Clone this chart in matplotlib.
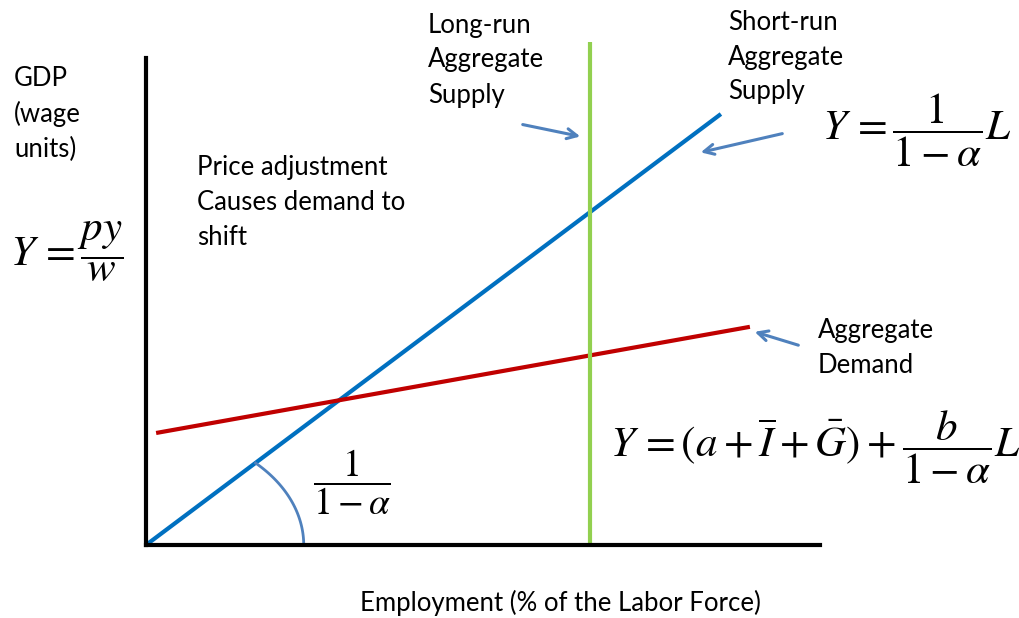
import numpy as np
import matplotlib.pyplot as plt

plt.rcParams['font.family'] = ['Lato', 'DejaVu Sans']
plt.rcParams['mathtext.fontset'] = 'stix'

# curves in chart units (x: employment 0-100, y: GDP 0-100)
sras_x = [0, 85.3]
sras_y = [0, 88.5]
ad_x = [1.5, 89.6]
ad_y = [23.0, 44.8]
lras_x = 65.9
lras_y = [0, 103.3]
arc_r = 23.4
arc_deg = 46

W, H = 1020, 618
def fp(x, y):
    # pixel (from top-left) -> figure fraction
    return x / W, 1 - y / H

fig = plt.figure(figsize=(10.2, 6.18), dpi=100)
l, b = fp(146, 545)
r, t = fp(820, 58)
ax = fig.add_axes([l, b, r - l, t - b])
ax.set_xlim(0, 100)
ax.set_ylim(0, 100)
for s in ['top', 'right']:
    ax.spines[s].set_visible(False)
for s in ['left', 'bottom']:
    ax.spines[s].set_linewidth(3)
ax.set_xticks([])
ax.set_yticks([])

ax.plot(sras_x, sras_y, color='#0070C0', lw=3, solid_capstyle='butt', clip_on=False)
ax.plot(ad_x, ad_y, color='#C00000', lw=3, solid_capstyle='butt', clip_on=False)
ax.plot([lras_x, lras_x], lras_y, color='#92D050', lw=3, solid_capstyle='butt', clip_on=False)
th = np.radians(np.linspace(0, arc_deg, 60))
ax.plot(arc_r * np.cos(th), arc_r * np.sin(th), color='#4F81BD', lw=2, clip_on=False)

fs = 18.5
def txt(x, y, s, **kw):
    fig.text(*fp(x, y), s, fontsize=kw.pop('fontsize', fs), va=kw.pop('va', 'center'),
             ha=kw.pop('ha', 'left'), linespacing=kw.pop('linespacing', 1.5), **kw)

txt(14, 114, 'GDP\n(wage\nunits)')
txt(197, 203, 'Price adjustment\nCauses demand to\nshift')
txt(428, 60, 'Long-run\nAggregate\nSupply')
txt(728, 57, 'Short-run\nAggregate\nSupply')
txt(818, 348, 'Aggregate\nDemand')
txt(560, 603, 'Employment (% of the Labor Force)', ha='center')

ms = 31
txt(10, 252, r'$Y\,=\dfrac{py}{w}$', fontsize=ms)
txt(822, 130, r'$Y\,=\dfrac{1}{1-\alpha}L$', fontsize=ms)
txt(610, 447, r'$Y\,=\left(a+\overline{I}+\bar{G}\right)+\dfrac{b}{1-\alpha}L$', fontsize=ms)
txt(313, 482, r'$\dfrac{1}{1-\alpha}$', fontsize=27)

aprops = dict(arrowstyle='->', color='#4F81BD', lw=2.2, mutation_scale=18)
ax.annotate('', xy=fp(583, 137), xytext=fp(520, 124), xycoords='figure fraction', arrowprops=aprops)
ax.annotate('', xy=fp(698, 153), xytext=fp(785, 133), xycoords='figure fraction', arrowprops=aprops)
ax.annotate('', xy=fp(752, 331), xytext=fp(801, 346), xycoords='figure fraction', arrowprops=aprops)

fig.savefig('out.png', dpi=100)
